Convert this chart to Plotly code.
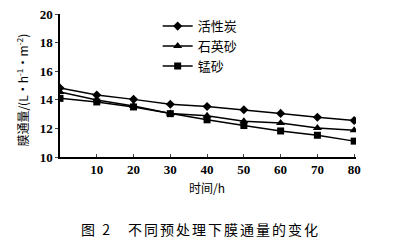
import plotly.graph_objects as go

time_h = [0, 10, 20, 30, 40, 50, 60, 70, 80]
activated_carbon = [14.83, 14.33, 14.03, 13.69, 13.53, 13.30, 13.05, 12.78, 12.55]
quartz_sand = [14.55, 13.98, 13.57, 13.05, 12.89, 12.50, 12.37, 12.02, 11.87]
manganese_sand = [14.10, 13.85, 13.50, 13.03, 12.60, 12.20, 11.82, 11.52, 11.11]

series = [
    ("活性炭", activated_carbon, "diamond", 7),
    ("石英砂", quartz_sand, "triangle-up", 8),
    ("锰砂", manganese_sand, "square", 7),
]

x_ticks = [10, 20, 30, 40, 50, 60, 70, 80]
y_ticks = [10, 12, 14, 16, 18, 20]

cjk = "Noto Sans CJK SC"
serif = "Liberation Serif"

fig = go.Figure()
for name, vals, sym, size in series:
    fig.add_trace(go.Scatter(
        x=time_h, y=vals, name=name, mode="lines+markers",
        line=dict(color="black", width=1.5),
        marker=dict(symbol=sym, size=size, color="black"),
    ))

fig.update_layout(
    width=419, height=249,
    margin=dict(l=60, r=63, t=11, b=92),
    paper_bgcolor="white", plot_bgcolor="white",
    showlegend=True,
    legend=dict(x=0.33, y=1.02, xanchor="left", yanchor="top",
                font=dict(family=cjk, size=13, color="black"),
                bgcolor="rgba(0,0,0,0)", tracegroupgap=0,
                itemwidth=30),
    xaxis=dict(range=[0, 80.5], tickvals=x_ticks, ticks="inside", ticklen=3,
               showline=True, linecolor="black", linewidth=1.5, showgrid=False,
               zeroline=False, automargin=False,
               tickfont=dict(family=serif, size=13, color="black", weight="bold")),
    yaxis=dict(range=[10, 20], tickvals=y_ticks, ticks="outside", ticklen=3,
               showline=True, linecolor="black", linewidth=1.5, showgrid=False,
               zeroline=False, automargin=False,
               tickfont=dict(family=serif, size=13, color="black", weight="bold")),
    annotations=[
        dict(text="时间/h", x=0.498, y=-0.212, xref="paper", yref="paper",
             xanchor="center", yanchor="middle",
             showarrow=False, font=dict(family=cjk, size=12, color="black")),
        dict(text="膜通量/(L·h<sup>-1</sup>·m<sup>-2</sup>)", x=-0.129, y=0.47,
             xref="paper", yref="paper", textangle=-90, showarrow=False,
             xanchor="center", yanchor="middle",
             font=dict(family=cjk, size=12, color="black")),
        dict(text='<span style="letter-spacing:2px">图 2　不同预处理下膜通量的变化</span>',
             x=0.475, y=-0.5, xref="paper", yref="paper",
             xanchor="center", yanchor="middle", showarrow=False,
             font=dict(family=cjk, size=14, color="black")),
    ],
)

fig.write_html("out.html")
